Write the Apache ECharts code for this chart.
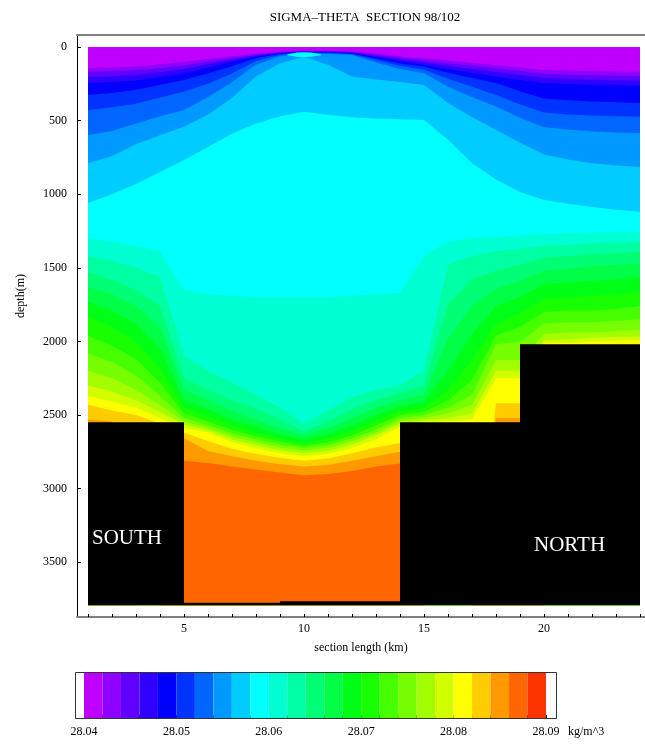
<!DOCTYPE html>
<html><head><meta charset="utf-8">
<script src="https://cdn.jsdelivr.net/npm/echarts@6/dist/echarts.min.js"></script>
<style>html,body{margin:0;padding:0;background:#fff}#c{width:645px;height:745px}</style>
</head><body><div id="c"></div>
<script>
// ---- station positions (km) ----
const stationKm = [1,2,3,4,5,6,7,8,9,10,11,12,13,14,15,16,17,18,19,20,21,22,23,24];

// ---- depth (m) of each sigma-theta level at every station ----
const iso28042 = [145,140,132,118,100,82,62,46,32,25,25,30,45,62,77,92,107,122,140,156,160,163,166,168];
const iso28044 = [170,165,158,145,125,100,75,52,36,28,29,34,52,72,92,110,128,145,162,182,188,192,195,198];
const iso28046 = [205,198,190,172,150,118,88,58,40,31,32,38,60,84,106,128,150,170,190,210,218,222,226,230];
const iso28048 = [245,238,228,205,180,140,100,64,44,34,35,42,68,98,120,150,175,200,225,245,252,255,258,260];
const iso28050 = [326,312,290,258,224,180,130,75,48,37,38,46,78,112,134,175,210,245,300,350,362,370,376,380];
const iso28052 = [430,410,385,345,303,250,180,95,54,40,42,50,90,128,155,215,270,326,390,445,458,465,470,473];
const iso28054 = [600,570,520,470,428,340,240,120,62,45,48,54,105,150,178,270,340,405,480,545,560,572,580,585];
const iso28056 = [790,740,660,600,541,460,345,200,110,66,120,200,220,238,258,380,475,564,650,730,765,790,805,815];
const iso28058 = [1060,1000,930,850,768,680,590,520,470,440,460,478,485,490,496,630,790,900,985,1040,1065,1085,1105,1120];
const iso28060 = [1300,1320,1350,1390,1650,1680,1690,1700,1700,1700,1700,1690,1680,1670,1420,1320,1300,1290,1280,1270,1265,1260,1258,1255];
const iso28062 = [1420,1450,1500,1560,2100,2200,2280,2360,2450,2560,2470,2380,2330,2300,2200,1480,1420,1390,1370,1350,1345,1335,1328,1322];
const iso28064 = [1530,1580,1650,1760,2250,2330,2400,2460,2530,2610,2540,2460,2400,2350,2300,1750,1580,1520,1480,1430,1420,1410,1400,1390];
const iso28066 = [1630,1680,1760,1900,2330,2400,2470,2530,2590,2640,2590,2520,2450,2400,2360,1980,1760,1640,1590,1520,1505,1490,1480,1470];
const iso28068 = [1730,1790,1880,2050,2400,2460,2530,2580,2630,2665,2630,2570,2500,2440,2410,2200,1950,1760,1700,1610,1600,1590,1580,1560];
const iso28070 = [1830,1900,2000,2180,2450,2510,2570,2620,2660,2690,2660,2610,2540,2470,2450,2330,2130,1880,1810,1710,1700,1690,1680,1660];
const iso28072 = [1960,2030,2120,2280,2490,2545,2600,2645,2680,2710,2685,2640,2570,2500,2480,2400,2260,1960,1900,1800,1790,1790,1780,1760];
const iso28074 = [2080,2140,2230,2370,2520,2570,2625,2665,2700,2725,2705,2660,2600,2520,2500,2450,2360,2020,2000,1880,1870,1870,1860,1850];
const iso28076 = [2200,2250,2330,2430,2545,2590,2645,2685,2720,2740,2725,2680,2620,2540,2520,2490,2430,2127,2127,1950,1940,1940,1930,1920];
const iso28078 = [2300,2340,2400,2480,2565,2605,2665,2705,2740,2760,2745,2700,2640,2560,2535,2520,2490,2200,2200,1990,1985,1975,1970,1965];
const iso28080 = [2370,2410,2450,2520,2590,2617,2685,2725,2760,2780,2765,2725,2665,2580,2550,2545,2530,2250,2250,2010,2010,2000,1995,1990];
const iso28082 = [2430,2470,2500,2560,2620,2677,2730,2765,2790,2810,2795,2760,2720,2690,4000,4000,4000,2420,2420,4000,4000,4000,4000,4000];
const iso28084 = [2530,2545,4000,4000,2660,2745,2780,2810,2835,2850,2840,2810,2780,2750,4000,4000,4000,2520,2520,4000,4000,4000,4000,4000];
const iso28086 = [4000,4000,4000,4000,2810,2826,2850,2870,2890,2910,2900,2880,2850,2830,4000,4000,4000,2600,2600,4000,4000,4000,4000,4000];

// small near-surface lens of lighter water around 10 km
const lensKm = [9.3, 9.7, 10.0, 10.3, 10.7];
const lensTop = [50, 38, 35, 38, 50];
const lensBottom = [56, 66, 70, 66, 56];

// ---- bathymetry (black) ----
const bedStartKm = [1, 5, 9, 14, 19];
const bedEndKm = [5, 9, 14, 19, 24];
const bedTopDepth = [2550, 3775, 3765, 2550, 2020];
const fieldBottom = 3792;

// ---- axes ----
const depthTicks = [0,500,1000,1500,2000,2500,3000,3500];
const kmTicks = [1,2,3,4,5,6,7,8,9,10,11,12,13,14,15,16,17,18,19,20,21,22,23,24];
const kmLabels = [5,10,15,20];

// ---- colour scale ----
const binEdges = [28.040,28.042,28.044,28.046,28.048,28.050,28.052,28.054,28.056,28.058,28.060,28.062,28.064,28.066,28.068,28.070,28.072,28.074,28.076,28.078,28.080,28.082,28.084,28.086,28.088,28.090];
const scaleLabels = [28.04,28.05,28.06,28.07,28.08,28.09];
const binColors = ['#c000ff','#9000ff','#6000ff','#3000ff','#0000ff','#0033ff','#0066ff','#0099ff','#00ccff','#00ffff',
  '#00ffd2','#00ffa3','#00ff75','#00ff46','#00ff17','#17ff00','#46ff00','#75ff00','#a3ff00','#d2ff00',
  '#ffff00','#ffcc00','#ff9900','#ff6600','#ff3300'];

const isoLines = [null, iso28042, iso28044, iso28046, iso28048, iso28050, iso28052, iso28054, iso28056, iso28058,
  iso28060, iso28062, iso28064, iso28066, iso28068, iso28070, iso28072, iso28074, iso28076, iso28078,
  iso28080, iso28082, iso28084, iso28086];

const FONT = 'Liberation Serif';
const chart = echarts.init(document.getElementById('c'), null, {renderer: 'canvas'});

const fieldData = isoLines.map((_, k) => [k]);
const bedData = bedStartKm.map((s, i) => [s, bedEndKm[i], bedTopDepth[i]]);
const barData = binColors.map((_, k) => [binEdges[k], binEdges[k + 1], k]);

const xMin = 1 + (77 - 88) / 24, xMax = xMin + 568 / 24;
const yMin = (35 - 47) / 0.1472, yMax = yMin + 582 / 0.1472;

chart.setOption({
  animation: false,
  backgroundColor: '#fff',
  grid: [
    {left: 77, top: 35, width: 568, height: 582, containLabel: false, outerBoundsMode: 'none'},
    {left: 84, top: 672, width: 462, height: 47, containLabel: false, outerBoundsMode: 'none'}
  ],
  xAxis: [
    {gridIndex: 0, type: 'value', min: xMin, max: xMax, position: 'bottom',
      axisLine: {show: true, onZero: false, lineStyle: {color: '#808080', width: 2}},
      axisTick: {show: true, inside: true, length: 3, customValues: kmTicks, lineStyle: {color: '#000'}},
      axisLabel: {customValues: kmLabels, formatter: v => String(v), fontFamily: FONT, fontSize: 12, color: '#000', margin: 6},
      splitLine: {show: false},
      name: 'section length (km)', nameLocation: 'middle', nameGap: 25,
      nameTextStyle: {fontFamily: FONT, fontSize: 12, color: '#000'}},
    {gridIndex: 0, type: 'value', min: xMin, max: xMax, position: 'top',
      axisLine: {show: true, onZero: false, lineStyle: {color: '#808080', width: 2}},
      axisTick: {show: false}, axisLabel: {show: false}, splitLine: {show: false}},
    {gridIndex: 1, type: 'value', min: 28.04, max: 28.09, position: 'bottom',
      axisLine: {show: false},
      axisTick: {show: true, inside: true, length: 4, customValues: binEdges, lineStyle: {color: '#000'}},
      axisLabel: {customValues: scaleLabels, formatter: v => v.toFixed(2), fontFamily: FONT, fontSize: 12, color: '#000', margin: 7},
      splitLine: {show: false}}
  ],
  yAxis: [
    {gridIndex: 0, type: 'value', inverse: true, min: yMin, max: yMax,
      axisLine: {show: true, onZero: false, lineStyle: {color: '#000', width: 1}},
      axisTick: {show: true, inside: true, length: 4, customValues: depthTicks, lineStyle: {color: '#000'}},
      axisLabel: {customValues: depthTicks, formatter: v => String(Math.round(v)), fontFamily: FONT, fontSize: 12, color: '#000', margin: 10},
      splitLine: {show: false}},
    {gridIndex: 1, type: 'value', min: 0, max: 1, show: false}
  ],
  series: [
    {type: 'custom', name: 'field', xAxisIndex: 0, yAxisIndex: 0, silent: true, data: fieldData,
      renderItem: function (params, api) {
        const k = api.value(0);
        const line = isoLines[k];
        const pts = stationKm.map((x, i) => api.coord([x, k === 0 ? 0 : Math.min(line[i], fieldBottom)]));
        pts.push(api.coord([stationKm[stationKm.length - 1], fieldBottom]));
        pts.push(api.coord([stationKm[0], fieldBottom]));
        return {type: 'polygon', shape: {points: pts}, style: {fill: binColors[k]}};
      }},
    {type: 'custom', name: 'lens', xAxisIndex: 0, yAxisIndex: 0, silent: true, data: [[0]],
      renderItem: function (params, api) {
        const pts = lensKm.map((x, i) => api.coord([x, lensTop[i]]));
        for (let i = lensKm.length - 1; i >= 0; i--) pts.push(api.coord([lensKm[i], lensBottom[i]]));
        return {type: 'polygon', shape: {points: pts}, style: {fill: binColors[9]}};
      }},
    {type: 'custom', name: 'bathymetry', xAxisIndex: 0, yAxisIndex: 0, silent: true, data: bedData,
      renderItem: function (params, api) {
        const p0 = api.coord([api.value(0), api.value(2)]);
        const p1 = api.coord([api.value(1), fieldBottom]);
        return {type: 'rect', shape: {x: p0[0], y: p0[1], width: p1[0] - p0[0], height: p1[1] - p0[1]}, style: {fill: '#000'}};
      }},
    {type: 'custom', name: 'colorbar', xAxisIndex: 2, yAxisIndex: 1, silent: true, data: barData,
      renderItem: function (params, api) {
        const p0 = api.coord([api.value(0), 1]);
        const p1 = api.coord([api.value(1), 0]);
        return {type: 'rect', shape: {x: p0[0], y: p0[1], width: p1[0] - p0[0], height: p1[1] - p0[1]}, style: {fill: binColors[api.value(2)]}};
      }}
  ],
  graphic: [
    {type: 'text', x: 365, y: 18, silent: true, z: 100,
      style: {text: 'SIGMA\u2013THETA  SECTION 98/102', font: '13px ' + FONT, fill: '#000', align: 'center', verticalAlign: 'middle'}},
    {type: 'text', x: 21, y: 296, rotation: Math.PI / 2, silent: true, z: 100,
      style: {text: 'depth(m)', font: '12px ' + FONT, fill: '#000', align: 'center', verticalAlign: 'middle'}},
    {type: 'text', x: 92, y: 538, silent: true, z: 100,
      style: {text: 'SOUTH', font: '21px ' + FONT, fill: '#fff', align: 'left', verticalAlign: 'middle'}},
    {type: 'text', x: 534, y: 545, silent: true, z: 100,
      style: {text: 'NORTH', font: '21px ' + FONT, fill: '#fff', align: 'left', verticalAlign: 'middle'}},
    {type: 'rect', shape: {x: 75.5, y: 672.5, width: 481, height: 46}, silent: true, z: 100,
      style: {fill: 'none', stroke: '#333', lineWidth: 1}},
    {type: 'text', x: 568, y: 732, silent: true, z: 100,
      style: {text: 'kg/m^3', font: '12px ' + FONT, fill: '#000', align: 'left', verticalAlign: 'middle'}}
  ]
});
</script></body></html>
